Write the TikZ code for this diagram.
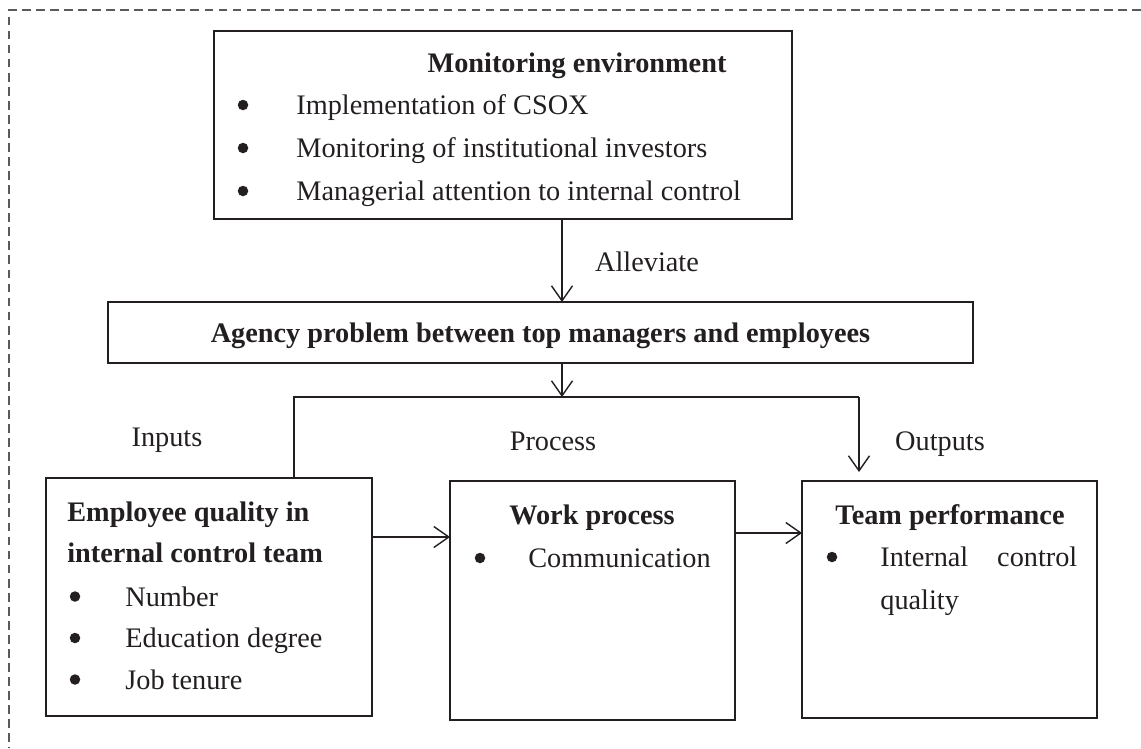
\documentclass[tikz,border=0pt]{standalone}
\usepackage{fontspec}
\setmainfont{Liberation Serif}
\usepackage{tikz}
\usetikzlibrary{arrows.meta}
\definecolor{ink}{RGB}{35, 31, 32}
\definecolor{frame}{RGB}{90, 90, 90}

\begin{document}
\begin{tikzpicture}[x=0.02cm, y=-0.02cm,
    txt/.style={font=\fontsize{16.1}{19}\selectfont, text=ink, inner sep=0pt,
                text height=11pt, text depth=0pt},
    head/.style={txt, font=\fontsize{16.1}{19}\selectfont\bfseries},
    dot/.style={circle, fill=ink, inner sep=0pt, minimum size=0.21cm},
    box/.style={draw=ink, line width=0.8pt, inner sep=0pt, outer sep=0pt},
    arr/.style={draw=ink, line width=0.8pt, -{Straight Barb[length=0.3cm, width=0.42cm, line width=0.8pt]}}]
    \useasboundingbox (0,0) rectangle (1141,748);

    % outer dashed frame (only top and left edge shown)
    \coordinate (frtl) at (9,10);
    \draw[frame, line width=0.6pt, dash pattern=on 5pt off 3pt] (1141,10) -- (frtl) -- (9,748);

    % Boxes
    \node[box, minimum width=11.56cm, minimum height=3.76cm] (monbox) at (503,125) {};
    \node[box, minimum width=17.3cm, minimum height=1.22cm] (agbox) at (540.5,332.5) {};
    \node[box, minimum width=6.52cm, minimum height=4.76cm] (inbox) at (209,597) {};
    \node[box, minimum width=5.7cm, minimum height=4.78cm] (procbox) at (592.5,600.5) {};
    \node[box, minimum width=5.9cm, minimum height=4.74cm] (outbox) at (949.5,599.5) {};

    % Monitoring environment
    \node[head] (montitle) at (577,63) {Monitoring environment};
    \foreach \t [count=\i] in {Implementation of CSOX,
        Monitoring of institutional investors,
        Managerial attention to internal control} {
      \node[dot] (mondot\i) at (243,62+43*\i) {};
      \node[txt, anchor=west] (monitem\i) at (296,62+43*\i) {\t};
    }

    % Agency problem
    \node[head] (agtitle) at (agbox.center) {Agency problem between top managers and employees};

    % Inputs
    \node[head, anchor=west] (intitle1) at (67,512) {Employee quality in};
    \node[head, anchor=west] (intitle2) at (67,553) {internal control team};
    \foreach \t [count=\i] in {Number, Education degree, Job tenure} {
      \node[dot] (indot\i) at (75,555+41.5*\i) {};
      \node[txt, anchor=west] (initem\i) at (125,555+41.5*\i) {\t};
    }

    % Process
    \node[head] (proctitle) at (592,515) {Work process};
    \node[dot] (procdot) at (480,558) {};
    \node[txt, anchor=west] (procitem) at (528,558) {Communication};

    % Outputs
    \node[head] (outtitle) at (950,515) {Team performance};
    \node[dot] (outdot) at (832,557) {};
    \node[txt, anchor=west, text width=3.94cm] (outitem1) at (880,557) {Internal\hfill control};
    \node[txt, anchor=west] (outitem2) at (880,600) {quality};

    % Stage labels
    \node[txt] (lblalle) at (647,262) {Alleviate};
    \node[txt] (lblin) at (167,437) {Inputs};
    \node[txt] (lblproc) at (553,441) {Process};
    \node[txt] (lblout) at (940,441) {Outputs};

    % Connectors
    \coordinate (midx) at (562,0);
    \coordinate (splitl) at (294,397);
    \coordinate (splitr) at (859,397);
    \coordinate (outtop) at (859,472);
    \draw[arr] (monbox.south -| midx) -- (agbox.north -| midx);
    \draw[arr] (agbox.south -| midx) -- (splitl -| midx);
    \draw[draw=ink, line width=0.8pt] (inbox.north -| splitl) -- (splitl) -- (splitr);
    \draw[arr] (splitr) -- (outtop);
    \draw[arr] (inbox.east |- 0,537) -- (procbox.west |- 0,537);
    \draw[arr] (procbox.east |- 0,533) -- (outbox.west |- 0,533);
\end{tikzpicture}
\end{document}
